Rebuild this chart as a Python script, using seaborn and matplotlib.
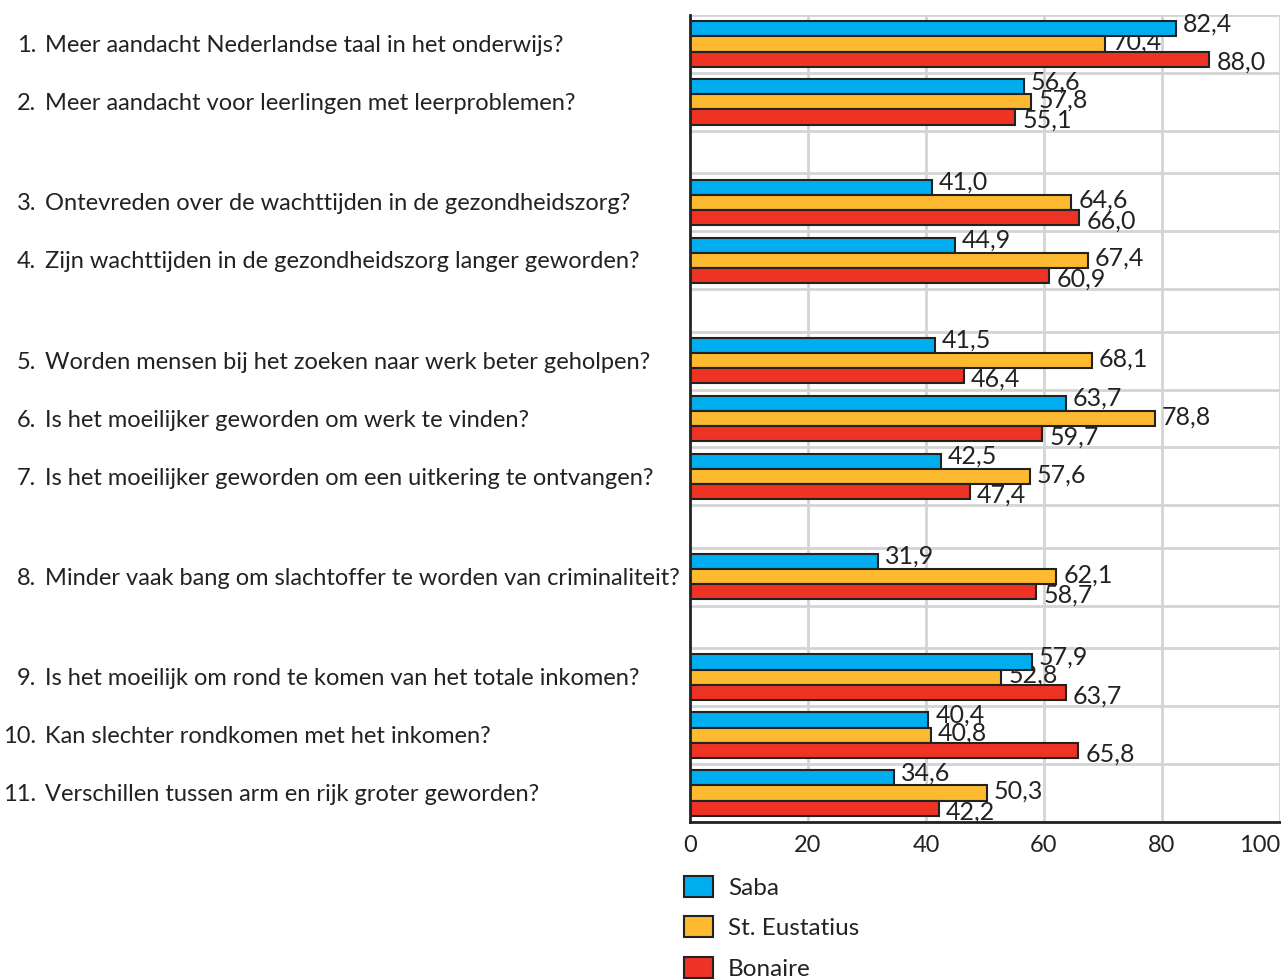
import numpy as np
import pandas as pd
import seaborn as sns
import matplotlib.pyplot as plt
from matplotlib.patches import Patch
import matplotlib.transforms as mtransforms

questions = [
    "Meer aandacht Nederlandse taal in het onderwijs?",
    "Meer aandacht voor leerlingen met leerproblemen?",
    "Ontevreden over de wachttijden in de gezondheidszorg?",
    "Zijn wachttijden in de gezondheidszorg langer geworden?",
    "Worden mensen bij het zoeken naar werk beter geholpen?",
    "Is het moeilijker geworden om werk te vinden?",
    "Is het moeilijker geworden om een uitkering te ontvangen?",
    "Minder vaak bang om slachtoffer te worden van criminaliteit?",
    "Is het moeilijk om rond te komen van het totale inkomen?",
    "Kan slechter rondkomen met het inkomen?",
    "Verschillen tussen arm en rijk groter geworden?",
]
# number of questions per block (blank row between blocks)
group_sizes = [2, 2, 3, 1, 3]

islands = ["Saba", "St. Eustatius", "Bonaire"]
saba = [82.4, 56.6, 41.0, 44.9, 41.5, 63.7, 42.5, 31.9, 57.9, 40.4, 34.6]
eustatius = [70.4, 57.8, 64.6, 67.4, 68.1, 78.8, 57.6, 62.1, 52.8, 40.8, 50.3]
bonaire = [88.0, 55.1, 66.0, 60.9, 46.4, 59.7, 47.4, 58.7, 63.7, 65.8, 42.2]

colors = ["#00AEEF", "#FDB92F", "#EE3224"]

# slot layout: each question one unit, gap rows smaller
gap = 0.73
centers = []
bounds = [0.0]
pos = 0.0
for gi, n in enumerate(group_sizes):
    for k in range(n):
        centers.append(pos + 0.5)
        pos += 1.0
        bounds.append(pos)
    if gi < len(group_sizes) - 1:
        pos += gap
        bounds.append(pos)
total = pos

df = pd.DataFrame({
    "pos": np.tile(centers, 3),
    "value": saba + eustatius + bonaire,
    "island": np.repeat(islands, len(questions)),
})

sns.set_theme(style="white")
plt.rcParams["font.family"] = ["Lato", "DejaVu Sans"]
text_col = "#222222"

fig = plt.figure(figsize=(12.81, 9.8), dpi=100)
ax = fig.add_axes([0.5386, 0.1612, 0.4606, 0.8235])

sns.barplot(data=df, x="value", y="pos", hue="island", hue_order=islands,
            palette=colors, saturation=1, orient="h", native_scale=True, width=0.78,
            edgecolor="#222222", linewidth=1.5, legend=False, ax=ax, zorder=2)

ax.set_xlim(0, 100)
ax.set_ylim(total, 0)

# grid
for b in bounds:
    ax.axhline(b, color="#d4d4d4", lw=2, zorder=0)
for xv in [20, 40, 60, 80, 100]:
    ax.axvline(xv, color="#d4d4d4", lw=2, zorder=0)

# value labels
bw = 0.78 / 3
offsets = [-0.09, -0.03, 0.06]
for i, vals in enumerate([saba, eustatius, bonaire]):
    for c, v in zip(centers, vals):
        y = c + (i - 1) * bw + offsets[i]
        ax.text(v + 1.2, y, f"{v:.1f}".replace(".", ","), va="center", ha="left",
                fontsize=18, color=text_col, zorder=1)

# question labels
trans = mtransforms.blended_transform_factory(fig.transFigure, ax.transData)
for i, (c, q) in enumerate(zip(centers, questions)):
    ax.text(36 / 1281, c + 0.03, f"{i + 1}.", transform=trans, ha="right", va="center",
            fontsize=17, color=text_col)
    ax.text(45 / 1281, c + 0.03, q, transform=trans, ha="left", va="center",
            fontsize=17, color=text_col)

ax.set_yticks([])
ax.set_xticks([0, 20, 40, 60, 80, 100])
ax.tick_params(axis="x", length=0, pad=9, labelsize=17, labelcolor=text_col)
ax.get_xticklabels()[-1].set_ha("right")
ax.set_xlabel("")
ax.set_ylabel("")
for s in ["top", "right"]:
    ax.spines[s].set_visible(False)
for s in ["left", "bottom"]:
    ax.spines[s].set_color("#222222")
    ax.spines[s].set_linewidth(2)

handles = [Patch(facecolor=col, edgecolor="#222222", linewidth=1.5, label=lab)
           for col, lab in zip(colors, islands)]
fig.legend(handles=handles, loc="upper left", bbox_to_anchor=(684 / 1281, 1 - 876 / 980),
           frameon=False, fontsize=17.5, labelspacing=0.72, handlelength=1.2,
           handleheight=0.95, handletextpad=0.6, borderpad=0, borderaxespad=0,
           labelcolor=text_col)

fig.savefig("out.png", dpi=100)
